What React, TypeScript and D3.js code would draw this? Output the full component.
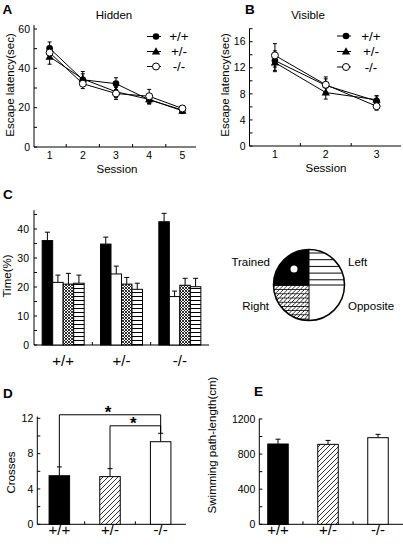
import React from "react";
import * as d3 from "d3";

const FONT = "'Liberation Sans', Arial, Helvetica, sans-serif";

// Panel A: Hidden platform
const hiddenSessions = ["1", "2", "3", "4", "5"];
const hiddenWT = [50.2, 34.2, 32.2, 24.0, 18.8];
const hiddenWTErr = [3.2, 3.0, 3.0, 2.2, 1.5];
const hiddenHet = [45.9, 34.6, 28.1, 24.2, 18.4];
const hiddenHetErr = [3.8, 3.8, 3.0, 2.0, 1.4];
const hiddenKO = [48.0, 32.2, 27.2, 25.8, 19.6];
const hiddenKOErr = [3.0, 2.5, 3.0, 3.5, 1.5];
const hiddenYTicks = [0, 20, 40, 60];

// Panel B: Visible platform
const visibleSessions = ["1", "2", "3"];
const visibleWT = [13.1, 9.3, 6.9];
const visibleWTErr = [1.5, 1.0, 0.8];
const visibleHet = [12.8, 8.2, 7.1];
const visibleHetErr = [1.4, 1.0, 0.6];
const visibleKO = [13.9, 9.4, 6.1];
const visibleKOErr = [1.8, 1.2, 0.6];
const visibleYTicks = [0, 4, 8, 12, 16];

// Panel C: probe trial, time per quadrant
const genotypes = ["+/+", "+/-", "-/-"];
const quadrantNames = ["Trained", "Opposite", "Right", "Left"];
const trainedTime = [36.0, 34.8, 42.5];
const trainedErr = [2.9, 2.4, 2.9];
const oppositeTime = [21.6, 24.5, 16.7];
const oppositeErr = [2.5, 2.7, 1.9];
const rightTime = [21.0, 21.0, 20.6];
const rightErr = [3.7, 2.3, 2.4];
const leftTime = [21.3, 19.2, 20.1];
const leftErr = [2.8, 2.1, 2.9];
const timeYTicks = [0, 10, 20, 30, 40];

// Panel D: platform crossings
const crosses = [5.5, 5.4, 9.35];
const crossesErr = [1.0, 0.9, 0.95];
const crossesYTicks = [0, 4, 8, 12];
const sigStar = "*";

// Panel E: swimming path length
const pathLength = [915, 911, 987];
const pathLengthErr = [55, 45, 38];
const pathYTicks = [0, 400, 800, 1200];

type MarkerType = "filled" | "triangle" | "open";

function Marker({ type, x, y }: { type: MarkerType; x: number; y: number }) {
  if (type === "filled") return <circle cx={x} cy={y} r={3.3} fill="#000" />;
  if (type === "open")
    return <circle cx={x} cy={y} r={3.5} fill="#fff" stroke="#000" strokeWidth={1} />;
  return (
    <path
      d={d3.symbol(d3.symbolTriangle, 30)() || ""}
      transform={`translate(${x},${y + 0.5})`}
      fill="#000"
    />
  );
}

interface SeriesDef {
  name: string;
  values: number[];
  err: number[];
  marker: MarkerType;
}

interface LineCfg {
  cats: string[];
  series: SeriesDef[];
  ticks: number[];
  minorStep: number;
  yMax: number;
  axisTop: number;
  yRange: [number, number];
  xRange: [number, number];
  axisX: number;
  axisEnd: number;
  title: string;
  titleX: number;
  panel: string;
  panelX: number;
  yLabelX: number;
  yLabelY: number;
  xLabelX: number;
  legendX: number;
  legendTextX: number;
  legendRows: number[];
}

function LinePanel(c: LineCfg) {
  const x = d3.scaleBand<string>().domain(c.cats).range(c.xRange);
  const y = d3.scaleLinear().domain([0, c.yMax]).range(c.yRange);
  const cx = (s: string) => (x(s) as number) + x.bandwidth() / 2;
  const y0 = y(0);
  const minor = d3.range(0, c.axisTop + 1e-9, c.minorStep);
  const line = d3
    .line<number>()
    .x((_, i) => cx(c.cats[i]))
    .y((v) => y(v));
  return (
    <g>
      <text x={c.panelX} y={13.5} fontSize={13.5} fontWeight="bold" fontFamily={FONT}>
        {c.panel}
      </text>
      <text x={c.titleX} y={19} fontSize={11.5} textAnchor="middle" fontFamily={FONT}>
        {c.title}
      </text>
      {/* axes */}
      <line x1={c.axisX} x2={c.axisX} y1={y0} y2={y(c.axisTop)} stroke="#000" strokeWidth={1} />
      <line x1={c.axisX} x2={c.axisEnd} y1={y0} y2={y0} stroke="#000" strokeWidth={1} />
      {minor.map((t) => (
        <line key={"m" + t} x1={c.axisX} x2={c.axisX + 3} y1={y(t)} y2={y(t)} stroke="#000" strokeWidth={1} />
      ))}
      {c.ticks.map((t) => (
        <text
          key={"t" + t}
          x={c.axisX - 4}
          y={y(t) + 3.7}
          fontSize={10.5}
          textAnchor="end"
          fontFamily={FONT}
        >
          {t}
        </text>
      ))}
      {c.cats.slice(1).map((s) => (
        <line key={"xt" + s} x1={x(s) as number} x2={x(s) as number} y1={y0} y2={y0 - 3} stroke="#000" strokeWidth={1} />
      ))}
      {c.cats.map((s) => (
        <text key={"xl" + s} x={cx(s)} y={y0 + 12} fontSize={10.5} textAnchor="middle" fontFamily={FONT}>
          {s}
        </text>
      ))}
      <text x={c.xLabelX} y={y0 + 25.5} fontSize={11.5} textAnchor="middle" fontFamily={FONT}>
        Session
      </text>
      <text
        transform={`translate(${c.yLabelX},${c.yLabelY}) rotate(-90)`}
        fontSize={11.5}
        textAnchor="middle"
        fontFamily={FONT}
      >
        Escape latency(sec)
      </text>
      {/* lines */}
      {c.series.map((s) => (
        <path key={"l" + s.name} d={line(s.values) || ""} fill="none" stroke="#000" strokeWidth={1} />
      ))}
      {/* error bars */}
      {c.series.map((s) =>
        s.values.map((v, i) => {
          const px = cx(c.cats[i]);
          const hi = y(v + s.err[i]);
          const lo = y(v - s.err[i]);
          return (
            <g key={"e" + s.name + i} stroke="#000" strokeWidth={1}>
              <line x1={px} x2={px} y1={hi} y2={lo} />
              <line x1={px - 2} x2={px + 2} y1={hi} y2={hi} />
              <line x1={px - 2} x2={px + 2} y1={lo} y2={lo} />
            </g>
          );
        })
      )}
      {c.series.map((s) =>
        s.values.map((v, i) => <Marker key={"p" + s.name + i} type={s.marker} x={cx(c.cats[i])} y={y(v)} />)
      )}
      {/* legend */}
      {c.series.map((s, i) => (
        <g key={"lg" + s.name}>
          <line
            x1={c.legendX - 9}
            x2={c.legendX + 5}
            y1={c.legendRows[i]}
            y2={c.legendRows[i]}
            stroke="#000"
            strokeWidth={1}
          />
          <Marker type={s.marker} x={c.legendX} y={c.legendRows[i]} />
          <text
            x={c.legendTextX}
            y={c.legendRows[i] + 4.5}
            fontSize={13.5}
            textAnchor="middle"
            fontFamily={FONT}
          >
            {s.name}
          </text>
        </g>
      ))}
    </g>
  );
}

function PanelC() {
  const x = d3.scaleBand<string>().domain(genotypes).range([34, 209]);
  const y = d3.scaleLinear().domain([0, 40]).range([345, 229]);
  const barW = 10.5;
  const y0 = y(0);
  const groups = [
    { name: quadrantNames[0], values: trainedTime, err: trainedErr, fill: "#000" },
    { name: quadrantNames[1], values: oppositeTime, err: oppositeErr, fill: "#fff" },
    { name: quadrantNames[2], values: rightTime, err: rightErr, fill: "url(#crossDense)" },
    { name: quadrantNames[3], values: leftTime, err: leftErr, fill: "url(#hLines)" },
  ];
  const minor = d3.range(0, 46, 5);
  return (
    <g>
      <text x={3} y={199} fontSize={13.5} fontWeight="bold" fontFamily={FONT}>
        C
      </text>
      <line x1={34} x2={34} y1={y0} y2={y(46.5)} stroke="#000" />
      <line x1={34} x2={209} y1={y0} y2={y0} stroke="#000" />
      {minor.map((t) => (
        <line key={"m" + t} x1={34} x2={37} y1={y(t)} y2={y(t)} stroke="#000" />
      ))}
      {timeYTicks.map((t) => (
        <text key={"t" + t} x={29} y={y(t) + 3.7} fontSize={10.5} textAnchor="end" fontFamily={FONT}>
          {t}
        </text>
      ))}
      {genotypes.slice(1).map((g) => (
        <line key={"xt" + g} x1={x(g) as number} x2={x(g) as number} y1={y0} y2={y0 - 3} stroke="#000" />
      ))}
      {genotypes.map((g) => (
        <text
          key={"xl" + g}
          x={(x(g) as number) + x.bandwidth() / 2}
          y={y0 + 21}
          fontSize={15}
          textAnchor="middle"
          fontFamily={FONT}
        >
          {g}
        </text>
      ))}
      <text transform={`translate(11,276) rotate(-90)`} fontSize={11.5} textAnchor="middle" fontFamily={FONT}>
        Time(%)
      </text>
      {genotypes.map((g, gi) => {
        const start = (x(g) as number) + x.bandwidth() / 2 - (barW * groups.length) / 2;
        return groups.map((q, qi) => {
          const bx = start + qi * barW;
          const top = y(q.values[gi]);
          const et = y(q.values[gi] + q.err[gi]);
          const mx = bx + barW / 2;
          return (
            <g key={g + q.name}>
              <line x1={mx} x2={mx} y1={top} y2={et} stroke="#000" />
              <line x1={mx - 2.5} x2={mx + 2.5} y1={et} y2={et} stroke="#000" />
              <rect x={bx} y={top} width={barW} height={y0 - top} fill={q.fill} stroke="#000" strokeWidth={1} />
            </g>
          );
        });
      })}
    </g>
  );
}

function QuadrantCircle() {
  const cx = 309;
  const cy = 285;
  const r = 35.5;
  const arc = d3.arc<any>().innerRadius(0).outerRadius(r);
  const quads = [
    { name: quadrantNames[0], a0: -Math.PI / 2, a1: 0, fill: "#000" },
    { name: quadrantNames[3], a0: 0, a1: Math.PI / 2, fill: "url(#hLinesWide)" },
    { name: quadrantNames[1], a0: Math.PI / 2, a1: Math.PI, fill: "#fff" },
    { name: quadrantNames[2], a0: Math.PI, a1: (3 * Math.PI) / 2, fill: "url(#crossQuad)" },
  ];
  return (
    <g>
      {quads.map((q) => (
        <path
          key={q.name}
          d={arc({ startAngle: q.a0, endAngle: q.a1 }) || ""}
          transform={`translate(${cx},${cy})`}
          fill={q.fill}
        />
      ))}
      <line x1={cx} x2={cx} y1={cy - r} y2={cy + r} stroke="#000" strokeWidth={1} />
      <line x1={cx - r} x2={cx + r} y1={cy} y2={cy} stroke="#000" strokeWidth={1} />
      <circle cx={cx} cy={cy} r={r} fill="none" stroke="#000" strokeWidth={1.5} />
      <circle cx={cx - 15} cy={cy - 16} r={3.5} fill="#fff" />
      <text x={270} y={266} fontSize={11.5} textAnchor="end" fontFamily={FONT}>
        {quadrantNames[0]}
      </text>
      <text x={348} y={266} fontSize={11.5} fontFamily={FONT}>
        {quadrantNames[3]}
      </text>
      <text x={269} y={310} fontSize={11.5} textAnchor="end" fontFamily={FONT}>
        {quadrantNames[2]}
      </text>
      <text x={348} y={310} fontSize={11.5} fontFamily={FONT}>
        {quadrantNames[1]}
      </text>
    </g>
  );
}

interface BarCfg {
  values: number[];
  err: number[];
  ticks: number[];
  minorStep: number;
  yMax: number;
  axisTop: number;
  yRange: [number, number];
  xRange: [number, number];
  axisX: number;
  axisEnd: number;
  panel: string;
  panelX: number;
  panelY: number;
  yLabel: string;
  yLabelX: number;
  yLabelY: number;
  tickFmt: (v: number) => string;
}

const barFills = ["#000", "url(#diag)", "#fff"];

function BarPanel(c: BarCfg & { children?: React.ReactNode }) {
  const x = d3.scaleBand<string>().domain(genotypes).range(c.xRange);
  const y = d3.scaleLinear().domain([0, c.yMax]).range(c.yRange);
  const y0 = y(0);
  const barW = 20.5;
  const minor = d3.range(0, c.axisTop + 1e-9, c.minorStep);
  return (
    <g>
      <text x={c.panelX} y={c.panelY} fontSize={13.5} fontWeight="bold" fontFamily={FONT}>
        {c.panel}
      </text>
      <line x1={c.axisX} x2={c.axisX} y1={y0} y2={y(c.axisTop)} stroke="#000" />
      <line x1={c.axisX} x2={c.axisEnd} y1={y0} y2={y0} stroke="#000" />
      {minor.map((t) => (
        <line key={"m" + t} x1={c.axisX} x2={c.axisX + 3} y1={y(t)} y2={y(t)} stroke="#000" />
      ))}
      {c.ticks.map((t) => (
        <text key={"t" + t} x={c.axisX - 4} y={y(t) + 3.7} fontSize={10.5} textAnchor="end" fontFamily={FONT}>
          {c.tickFmt(t)}
        </text>
      ))}
      {genotypes.slice(1).map((g) => (
        <line key={"xt" + g} x1={x(g) as number} x2={x(g) as number} y1={y0} y2={y0 - 3} stroke="#000" />
      ))}
      {genotypes.map((g) => (
        <text
          key={"xl" + g}
          x={(x(g) as number) + x.bandwidth() / 2}
          y={y0 + 11}
          fontSize={15}
          textAnchor="middle"
          fontFamily={FONT}
        >
          {g}
        </text>
      ))}
      <text
        transform={`translate(${c.yLabelX},${c.yLabelY}) rotate(-90)`}
        fontSize={11.5}
        textAnchor="middle"
        fontFamily={FONT}
      >
        {c.yLabel}
      </text>
      {genotypes.map((g, i) => {
        const mx = (x(g) as number) + x.bandwidth() / 2;
        const top = y(c.values[i]);
        const et = y(c.values[i] + c.err[i]);
        return (
          <g key={"b" + g}>
            <line x1={mx} x2={mx} y1={top} y2={et} stroke="#000" />
            <line x1={mx - 2.5} x2={mx + 2.5} y1={et} y2={et} stroke="#000" />
            <rect x={mx - barW / 2} y={top} width={barW} height={y0 - top} fill={barFills[i]} stroke="#000" />
          </g>
        );
      })}
      {c.children}
    </g>
  );
}

function SigBrackets() {
  const x = d3.scaleBand<string>().domain(genotypes).range([34, 186]);
  const y = d3.scaleLinear().domain([0, 12]).range([524.3, 418.3]);
  const cx = (i: number) => (x(genotypes[i]) as number) + x.bandwidth() / 2;
  const brackets = [
    { a: 0, b: 2, level: 12.4 },
    { a: 1, b: 2, level: 11.15 },
  ];
  return (
    <g>
      {brackets.map((br, k) => {
        const ly = y(br.level);
        const ya = y(crosses[br.a] + crossesErr[br.a]);
        const yb = y(crosses[br.b] + crossesErr[br.b]);
        const mid = (cx(br.a) + cx(br.b)) / 2;
        return (
          <g key={"br" + k}>
            <path
              d={`M${cx(br.a)},${ya} L${cx(br.a)},${ly} L${cx(br.b)},${ly} L${cx(br.b)},${yb}`}
              fill="none"
              stroke="#000"
            />
            <text x={mid - 2} y={ly + 3.5} fontSize={17} fontWeight="bold" textAnchor="middle" fontFamily={FONT}>
              {sigStar}
            </text>
          </g>
        );
      })}
    </g>
  );
}

export default function App() {
  const hiddenSeries: SeriesDef[] = [
    { name: genotypes[0], values: hiddenWT, err: hiddenWTErr, marker: "filled" },
    { name: genotypes[1], values: hiddenHet, err: hiddenHetErr, marker: "triangle" },
    { name: genotypes[2], values: hiddenKO, err: hiddenKOErr, marker: "open" },
  ];
  const visibleSeries: SeriesDef[] = [
    { name: genotypes[0], values: visibleWT, err: visibleWTErr, marker: "filled" },
    { name: genotypes[1], values: visibleHet, err: visibleHetErr, marker: "triangle" },
    { name: genotypes[2], values: visibleKO, err: visibleKOErr, marker: "open" },
  ];
  return (
    <div style={{ position: "fixed", left: 0, top: 0 }}>
      <svg width={403} height={546} style={{ display: "block", background: "#fff" }}>
        <defs>
          <pattern id="crossDense" patternUnits="userSpaceOnUse" width={3} height={3}>
            <rect width={3} height={3} fill="#fff" />
            <path d="M0,3 L3,0 M0,0 L3,3" stroke="#000" strokeWidth={0.8} />
          </pattern>
          <pattern id="hLines" patternUnits="userSpaceOnUse" width={4} height={4}>
            <rect width={4} height={4} fill="#fff" />
            <line x1={0} x2={4} y1={0.5} y2={0.5} stroke="#000" strokeWidth={1} />
          </pattern>
          <pattern id="hLinesWide" patternUnits="userSpaceOnUse" width={6} height={6.7} y={1}>
            <rect width={6} height={6.7} fill="#fff" />
            <line x1={0} x2={6} y1={0.5} y2={0.5} stroke="#000" strokeWidth={1} />
          </pattern>
          <pattern id="crossQuad" patternUnits="userSpaceOnUse" width={4.2} height={4.2}>
            <rect width={4.2} height={4.2} fill="#fff" />
            <path d="M0,4.2 L4.2,0 M-1,1 L1,-1 M3.2,5.2 L5.2,3.2" stroke="#000" strokeWidth={0.8} />
            <line x1={0} x2={4.2} y1={0.4} y2={0.4} stroke="#000" strokeWidth={0.8} />
          </pattern>
          <pattern id="diag" patternUnits="userSpaceOnUse" width={5} height={5}>
            <rect width={5} height={5} fill="#fff" />
            <path d="M0,5 L5,0 M-1,1 L1,-1 M4,6 L6,4" stroke="#000" strokeWidth={0.8} />
          </pattern>
        </defs>
        <LinePanel
          cats={hiddenSessions}
          series={hiddenSeries}
          ticks={hiddenYTicks}
          minorStep={10}
          yMax={60}
          axisTop={62}
          yRange={[147, 29]}
          xRange={[33, 199]}
          axisX={34}
          axisEnd={196}
          title="Hidden"
          titleX={114}
          panel="A"
          panelX={2.5}
          yLabelX={14}
          yLabelY={85}
          xLabelX={117}
          legendX={156}
          legendTextX={179}
          legendRows={[36.5, 51.5, 66.5]}
        />
        <LinePanel
          cats={visibleSessions}
          series={visibleSeries}
          ticks={visibleYTicks}
          minorStep={2}
          yMax={16}
          axisTop={18}
          yRange={[146, 41.7]}
          xRange={[249.5, 402]}
          axisX={249.5}
          axisEnd={401}
          title="Visible"
          titleX={308}
          panel="B"
          panelX={245}
          yLabelX={229}
          yLabelY={85}
          xLabelX={326}
          legendX={346}
          legendTextX={371}
          legendRows={[36, 51.5, 67]}
        />
        <PanelC />
        <QuadrantCircle />
        <BarPanel
          values={crosses}
          err={crossesErr}
          ticks={crossesYTicks}
          minorStep={2}
          yMax={12}
          axisTop={12.2}
          yRange={[524.3, 418.3]}
          xRange={[34, 186]}
          axisX={37.3}
          axisEnd={186}
          panel="D"
          panelX={3}
          panelY={398}
          yLabel="Crosses"
          yLabelX={15}
          yLabelY={472.5}
          tickFmt={(v) => String(v)}
        >
          <SigBrackets />
        </BarPanel>
        <BarPanel
          values={pathLength}
          err={pathLengthErr}
          ticks={pathYTicks}
          minorStep={200}
          yMax={1200}
          axisTop={1205}
          yRange={[524.3, 419]}
          xRange={[253, 403]}
          axisX={259.3}
          axisEnd={403}
          panel="E"
          panelX={254}
          panelY={396}
          yLabel="Swimming path-length(cm)"
          yLabelX={216}
          yLabelY={445}
          tickFmt={(v) => String(v)}
        />
      </svg>
    </div>
  );
}
